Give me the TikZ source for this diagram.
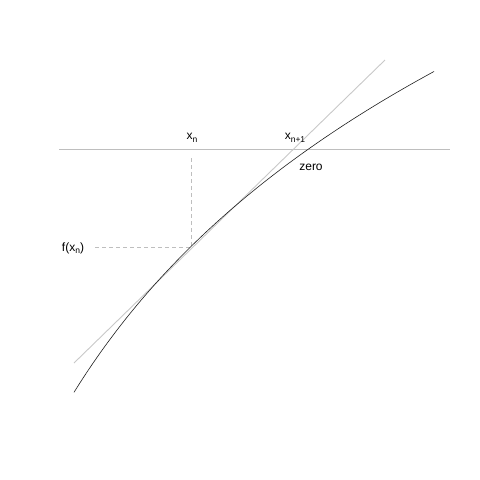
\documentclass[tikz,border=0pt]{standalone}
\usepackage{fontspec}
\setmainfont{Liberation Sans}
\newcommand{\sbs}[1]{\raisebox{-2.5pt}{\fontsize{8.5}{9}\selectfont #1}}
\tikzset{
  axisline/.style={draw={rgb,255:red,190;green,190;blue,190}, line width=0.8pt},
  tangentline/.style={draw={rgb,255:red,200;green,200;blue,200}, line width=0.9pt},
  guide/.style={draw={rgb,255:red,190;green,190;blue,190}, line width=0.7pt, dash pattern=on 4pt off 3pt},
  curveline/.style={draw={rgb,255:red,30;green,30;blue,30}, line width=0.6pt},
  lbl/.style={font=\fontsize{12}{14}\selectfont, inner sep=0pt}
}
\begin{document}
\begin{tikzpicture}[x=1pt,y=-1pt]
\useasboundingbox (0,0) rectangle (480,480);
\coordinate (hl) at (59,149);
\coordinate (hr) at (450,149);
\coordinate (tl) at (74,363);
\coordinate (tr) at (385,60);
\coordinate (p) at (191,247);
\coordinate (vtop) at (191,158);
\coordinate (hleft) at (95,247);
\draw[axisline] (hl) -- (hr);
\draw[tangentline] (tl) -- (tr);
\draw[guide] (vtop) -- (p);
\draw[guide] (hleft) -- (p);
\draw[curveline] plot[domain=74:434, samples=120, smooth] (\x, {246.5 - 295*ln(1+(\x-191)/300)});
\node[lbl] (xn) at (192,138) {x\sbs{n}};
\node[lbl] (xn1) at (295,138) {x\sbs{n+1}};
\node[lbl] (fxn) at (73,248) {f(x\sbs{n})};
\node[lbl] (zero) at (311,167) {zero};
\end{tikzpicture}
\end{document}
